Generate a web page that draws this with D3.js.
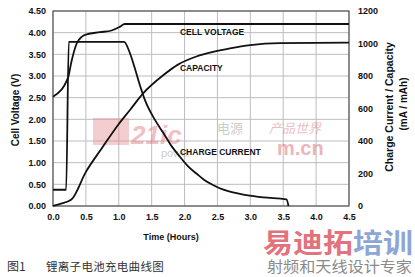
<!DOCTYPE html>
<html>
<head>
<meta charset="utf-8">
<script src="https://cdn.jsdelivr.net/npm/d3@7"></script>
<style>
  body { margin: 0; background: #fff; }
  text { font-family: Arial, "Liberation Sans", sans-serif; }
  .cjk { font-family: "Noto Sans CJK SC", sans-serif; }
</style>
</head>
<body>
<div id="chart"></div>
<script>
// tick values
var timeTicks = [0, 0.5, 1, 1.5, 2, 2.5, 3, 3.5, 4, 4.5];
var voltTicks = [0, 0.5, 1, 1.5, 2, 2.5, 3, 3.5, 4, 4.5];
var mahTicks = [0, 200, 400, 600, 800, 1000, 1200];

// cell voltage (V)
var voltageTime = [0, 0.23, 0.28, 0.36, 0.44, 0.51, 0.71, 0.89, 1.02, 1.09, 4.5];
var voltageValues = [2.52, 2.97, 3.33, 3.75, 3.91, 3.96, 4.01, 4.05, 4.14, 4.2, 4.2];

// charge current (mA)
var currentTime = [0, 0.2, 0.24, 1.08, 1.17, 1.25, 1.32, 1.4, 1.55, 1.68, 1.8, 1.93, 2.05, 2.18, 2.3, 2.44, 2.56, 2.69, 2.94, 3.2, 3.55, 3.58];
var currentValues = [100, 100, 1010, 1010, 940, 840, 745, 650, 530, 448, 370, 303, 245, 200, 160, 128, 105, 88, 67, 53, 41, 0];

// capacity (mAh)
var capacityTime = [0, 0.1, 0.28, 0.5, 0.75, 1.0, 1.17, 1.37, 1.68, 1.9, 2.18, 2.45, 2.69, 3.0, 3.45, 4.5];
var capacityValues = [0, 12, 40, 210, 360, 505, 591, 693, 806, 870, 920, 950, 970, 990, 1002, 1005];

var margin = {top: 11, right: 66, bottom: 71, left: 53};
var width = 415 - margin.left - margin.right;
var height = 277 - margin.top - margin.bottom;

var svg = d3.select("#chart")
    .append("svg")
    .attr("width", 415)
    .attr("height", 277);

var g = svg.append("g")
    .attr("transform", "translate(" + margin.left + "," + margin.top + ")");

var x = d3.scaleLinear().domain([0, 4.5]).range([0, width]);
var yV = d3.scaleLinear().domain([0, 4.5]).range([height, 0]);
var yI = d3.scaleLinear().domain([0, 1200]).range([height, 0]);

// grid
g.append("g").selectAll("line")
    .data(voltTicks)
    .enter().append("line")
    .attr("x1", 0).attr("x2", width)
    .attr("y1", function (d) { return yV(d); })
    .attr("y2", function (d) { return yV(d); })
    .style("stroke", "#bdbdbd").style("stroke-width", 1);

g.append("g").selectAll("line")
    .data(timeTicks)
    .enter().append("line")
    .attr("y1", 0).attr("y2", height)
    .attr("x1", function (d) { return x(d); })
    .attr("x2", function (d) { return x(d); })
    .style("stroke", "#bdbdbd").style("stroke-width", 1);

// watermark in the middle (faint)
var wm = g.append("g").style("opacity", 0.42);
wm.append("rect").attr("x", 40).attr("y", 107).attr("width", 36).attr("height", 27).style("fill", "#e48a8e");
wm.append("text").attr("x", 78).attr("y", 133).style("font-size", "26px").style("font-weight", "bold")
    .style("font-style", "italic").style("fill", "#e06c72").text("21ic");
wm.append("text").attr("class", "cjk").attr("x", 164).attr("y", 122).style("font-size", "13px")
    .style("fill", "#888").text("电源");
wm.append("text").attr("class", "cjk").attr("x", 216).attr("y", 122).style("font-size", "13px")
    .style("font-style", "italic").style("fill", "#d46a70").text("产品世界");
wm.append("text").attr("x", 108).attr("y", 146).style("font-size", "11px")
    .style("fill", "#888").text("power");
wm.append("text").attr("x", 224).attr("y", 144).style("font-size", "20px").style("font-weight", "bold")
    .style("fill", "#d9505a").text("m.cn");

// frame
g.append("rect")
    .attr("width", width).attr("height", height)
    .style("fill", "none").style("stroke", "#555").style("stroke-width", 1.2);

// axes
var xAxis = g.append("g")
    .attr("transform", "translate(0," + height + ")")
    .call(d3.axisBottom(x).tickValues(timeTicks).tickSize(0).tickPadding(8).tickFormat(d3.format(".1f")));
var leftAxis = g.append("g")
    .call(d3.axisLeft(yV).tickValues(voltTicks).tickSize(0).tickPadding(7).tickFormat(d3.format(".2f")));
var rightAxis = g.append("g")
    .attr("transform", "translate(" + width + ",0)")
    .call(d3.axisRight(yI).tickValues(mahTicks).tickSize(0).tickPadding(9).tickFormat(d3.format("d")));

[xAxis, leftAxis, rightAxis].forEach(function (a) {
    a.select(".domain").remove();
    a.selectAll("text")
        .style("font-family", "Arial, 'Liberation Sans', sans-serif")
        .style("font-size", "9px")
        .style("font-weight", "bold")
        .style("fill", "#111");
});

// curves
function series(times, values, yScale) {
    return times.map(function (t, i) { return {t: t, v: values[i], s: yScale}; });
}
var line = d3.line()
    .x(function (d) { return x(d.t); })
    .y(function (d) { return d.s(d.v); })
    .curve(d3.curveMonotoneX);

[series(voltageTime, voltageValues, yV),
 series(currentTime, currentValues, yI),
 series(capacityTime, capacityValues, yI)].forEach(function (s) {
    g.append("path")
        .datum(s)
        .attr("d", line)
        .style("fill", "none")
        .style("stroke", "#111")
        .style("stroke-width", 1.8)
        .style("stroke-linejoin", "round");
});

// curve labels
var labels = [
    {text: "CELL VOLTAGE", t: 1.9, y: 35},
    {text: "CAPACITY", t: 1.9, y: 70.5},
    {text: "CHARGE CURRENT", t: 1.9, y: 155}
];
svg.selectAll(".curve-label")
    .data(labels)
    .enter().append("text")
    .attr("class", "curve-label")
    .attr("x", function (d) { return margin.left + x(d.t) + 2; })
    .attr("y", function (d) { return d.y; })
    .style("font-size", "8.5px")
    .style("font-weight", "bold")
    .style("fill", "#111")
    .text(function (d) { return d.text; });

// axis titles
svg.append("text")
    .attr("transform", "translate(18.5,110) rotate(-90)")
    .attr("text-anchor", "middle")
    .style("font-size", "10px").style("font-weight", "bold").style("fill", "#111")
    .text("Cell Voltage (V)");

svg.append("text")
    .attr("transform", "translate(393,107) rotate(-90)")
    .attr("text-anchor", "middle")
    .style("font-size", "10.5px").style("font-weight", "bold").style("fill", "#111")
    .text("Charge Current / Capacity");

svg.append("text")
    .attr("transform", "translate(407,104) rotate(-90)")
    .attr("text-anchor", "middle")
    .style("font-size", "10px").style("font-weight", "bold").style("fill", "#111")
    .text("(mA / mAh)");

svg.append("text")
    .attr("x", 171).attr("y", 240)
    .attr("text-anchor", "middle")
    .style("font-size", "9px").style("font-weight", "bold").style("fill", "#111")
    .text("Time (Hours)");

// caption
svg.append("text").attr("class", "cjk")
    .attr("x", 7).attr("y", 271)
    .style("font-size", "12px").style("fill", "#333")
    .text("图1");
svg.append("text").attr("class", "cjk")
    .attr("x", 46).attr("y", 271)
    .style("font-size", "11.5px").style("fill", "#333")
    .style("letter-spacing", "0.3px")
    .text("锂离子电池充电曲线图");

// watermark bottom right
var wm2 = svg.append("text").attr("class", "cjk")
    .attr("x", 263).attr("y", 253)
    .style("font-size", "27px").style("font-weight", "bold")
    .attr("textLength", 150).attr("lengthAdjust", "spacingAndGlyphs");
wm2.append("tspan").style("fill", "#e2727c").text("易迪拓");
wm2.append("tspan").style("fill", "#8ea6d6").text("培训");

svg.append("text").attr("class", "cjk")
    .attr("x", 267).attr("y", 272)
    .style("font-size", "15px").style("fill", "#8a8a8a")
    .attr("textLength", 145).attr("lengthAdjust", "spacingAndGlyphs")
    .text("射频和天线设计专家");
</script>
</body>
</html>
